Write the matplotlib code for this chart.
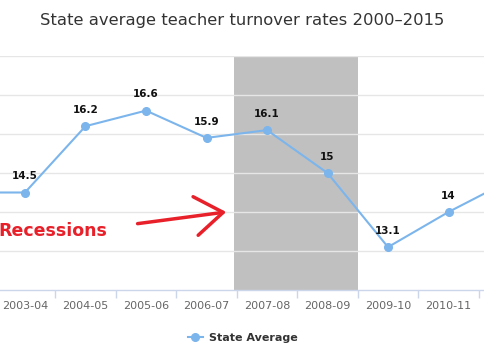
import matplotlib
matplotlib.use("Agg")
import matplotlib.pyplot as plt
from matplotlib.lines import Line2D

categories = ["2002-03", "2003-04", "2004-05", "2005-06", "2006-07",
              "2007-08", "2008-09", "2009-10", "2010-11", "2011-12"]
state_avg = [14.5, 14.5, 16.2, 16.6, 15.9, 16.1, 15.0, 13.1, 14.0, 14.8]
recession_start = "2007-08"
recession_end = "2008-09"

fig = plt.figure(figsize=(4.85, 3.6), dpi=100)
ax = fig.add_axes([0, 70/360, 1, 234/360])

xs = list(range(len(categories)))

i0 = categories.index(recession_start)
i1 = categories.index(recession_end)
ax.axvspan(i0 - 0.55, i1 + 0.5, color="#c0c0c0", zorder=0.5, lw=0)

for v in range(13, 19):
    ax.axhline(v, color="#e6e6e6", lw=1, zorder=0.8)

ax.plot(xs, state_avg, color="#7cb5ec", lw=1.5, marker="o", ms=5.5,
        zorder=3, clip_on=True)

for s in ["top", "left", "right"]:
    ax.spines[s].set_visible(False)
ax.spines["bottom"].set_color("#ccd6eb")
ax.spines["bottom"].set_linewidth(1)

ax.set_xticks(xs)
ax.set_xticklabels(categories, fontsize=8, color="#666666")
ax.set_xticks([x + 0.5 for x in xs], minor=True)
ax.tick_params(axis="x", which="major", length=0, pad=8)
ax.tick_params(axis="x", which="minor", length=6, color="#ccd6eb", width=1)
ax.set_yticks([])

ax.set_xlim(0.587, 8.603)
ax.set_ylim(12, 18)

for x, v in zip(xs, state_avg):
    ax.annotate(f"{v:g}", (x, v), xytext=(0, 8), textcoords="offset points",
                ha="center", va="bottom", fontsize=7.5, fontweight="bold",
                color="#111111", zorder=4, annotation_clip=True)

fig.text(0.5, 1 - 20/360, "State average teacher turnover rates 2000\u20132015",
         ha="center", va="center", fontsize=11.8, color="#333333")

ax.text(-0.003, 0.252, "Recessions", transform=ax.transAxes, ha="left",
        va="center", fontsize=12.5, fontweight="bold", color="#e8202a", zorder=5)
ax.annotate("", xy=(0.472, 0.335), xytext=(0.278, 0.282),
            xycoords="axes fraction", textcoords="axes fraction",
            arrowprops=dict(arrowstyle="->, head_length=1.0, head_width=0.7",
                            mutation_scale=20, color="#e8202a", lw=2.5),
            zorder=5)

handle = Line2D([0], [0], color="#7cb5ec", lw=1.5, marker="o", ms=5.5)
leg = fig.legend([handle], ["State Average"], loc="center",
                 bbox_to_anchor=(0.5, 1 - 338/360), frameon=False,
                 prop={"size": 8, "weight": "bold"}, handlelength=1.4,
                 handletextpad=0.5)
for t in leg.get_texts():
    t.set_color("#333333")

fig.savefig("out.png", dpi=100)
